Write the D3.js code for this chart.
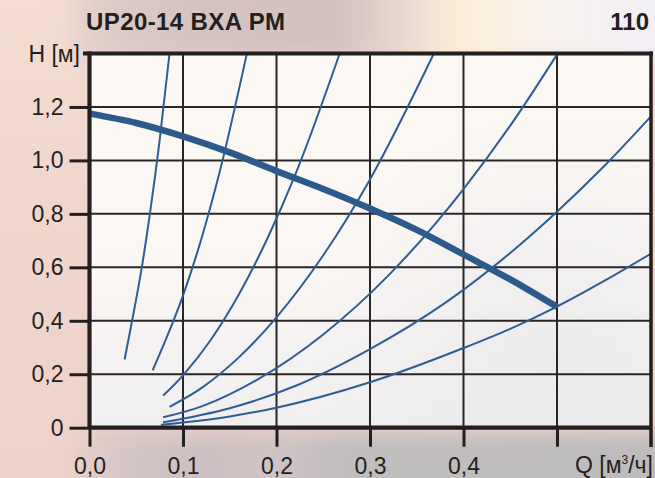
<!DOCTYPE html>
<html>
<head>
<meta charset="utf-8">
<script src="https://cdn.jsdelivr.net/npm/d3@7"></script>
<style>
  html, body { margin: 0; padding: 0; background: #efd6cc; }
  svg { display: block; }
  text { font-family: "Liberation Sans", Arial, Helvetica, sans-serif; }
</style>
</head>
<body>
<svg id="chart" width="655" height="478"></svg>
<script>
// ---- data -------------------------------------------------------------
const title = "UP20-14 BXA PM";
const sheetNo = "110";

const qTicks = [0, 0.1, 0.2, 0.3, 0.4, 0.5];
const qTickLabels = ["0,0", "0,1", "0,2", "0,3", "0,4", ""];
const hTicks = [0, 0.2, 0.4, 0.6, 0.8, 1.0, 1.2];
const hTickLabels = ["0", "0,2", "0,4", "0,6", "0,8", "1,0", "1,2"];
const qGrid = [0.1, 0.2, 0.3, 0.4, 0.5];
const hGrid = [0.2, 0.4, 0.6, 0.8, 1.0, 1.2];

// pump characteristic, Q [m3/h] -> H [m]
const pumpQ = [0, 0.05, 0.1, 0.15, 0.2, 0.25, 0.3, 0.35, 0.4, 0.45, 0.5];
const pumpH = [1.175, 1.14, 1.09, 1.03, 0.96, 0.893, 0.82, 0.74, 0.648, 0.555, 0.452];

// system resistance curves, [Q, H]
const system1 = [[0.0375, 0.255], [0.045, 0.39], [0.055, 0.58], [0.065, 0.81], [0.075, 1.075], [0.0856, 1.40]];
const system2 = [[0.0676, 0.215], [0.08, 0.316], [0.1, 0.494], [0.12, 0.711], [0.14, 0.968], [0.1683, 1.40]];
const system3 = [[0.0788, 0.12], [0.1, 0.196], [0.13, 0.33], [0.16, 0.50], [0.19, 0.706], [0.22, 0.946], [0.2676, 1.40]];
const system4 = [[0.0856, 0.078], [0.12, 0.149], [0.16, 0.264], [0.2, 0.413], [0.25, 0.645], [0.3, 0.929], [0.3683, 1.40]];
const system5 = [[0.0788, 0.039], [0.12, 0.08], [0.18, 0.181], [0.25, 0.349], [0.32, 0.571], [0.4, 0.893], [0.45, 1.13], [0.5007, 1.40]];
const system6 = [[0.0786, 0.02], [0.15, 0.073], [0.22, 0.156], [0.3, 0.294], [0.38, 0.466], [0.45, 0.654], [0.5, 0.808], [0.55, 0.977], [0.6, 1.163]];
const system7 = [[0.0765, 0.011], [0.15, 0.042], [0.2, 0.075], [0.3, 0.17], [0.4, 0.298], [0.45, 0.37], [0.5, 0.453], [0.55, 0.548], [0.6, 0.65]];
const systemCurves = [system1, system2, system3, system4, system5, system6, system7];

// ---- layout -----------------------------------------------------------
const W = 655, H = 478;
const x = d3.scaleLinear().domain([0, 0.6]).range([89.5, 650.5]);
const y = d3.scaleLinear().domain([0, 1.4]).range([427.7, 53.5]);

const ink = "#231f20";
const blue = "#2f5d92";

const svg = d3.select("#chart");
const defs = svg.append("defs");

// soft backdrop
defs.append("filter").attr("id", "soft")
  .attr("x", -0.2).attr("y", -0.5).attr("width", 1.4).attr("height", 2)
  .append("feGaussianBlur").attr("stdDeviation", 10);

function hGradient(id, stops) {
  const g = defs.append("linearGradient").attr("id", id)
    .attr("gradientUnits", "userSpaceOnUse")
    .attr("x1", 0).attr("x2", W).attr("y1", 0).attr("y2", 0);
  stops.forEach(([o, c]) => g.append("stop").attr("offset", o / W).attr("stop-color", c));
}
function vGradient(id, y1, y2, stops) {
  const g = defs.append("linearGradient").attr("id", id)
    .attr("gradientUnits", "userSpaceOnUse")
    .attr("x1", 0).attr("x2", 0).attr("y1", y1).attr("y2", y2);
  stops.forEach(([o, c]) => g.append("stop").attr("offset", o).attr("stop-color", c));
}

hGradient("topBand", [[0, "#f4ddd1"], [60, "#eed6cd"], [115, "#dccac7"], [200, "#d5c3c1"], [340, "#d3c1c0"],
  [405, "#e8d9d0"], [445, "#faebd6"], [490, "#fcefdd"], [545, "#f7f1ee"], [655, "#f2eff5"]]);
hGradient("bottomBand", [[0, "#f0d6cc"], [70, "#eccfc7"], [120, "#d6c6c6"], [200, "#cdc0c2"], [275, "#d0c3c4"],
  [340, "#c1bdbe"], [655, "#bdbbbc"]]);
vGradient("leftBand", 0, H, [[0, "#f4ddd1"], [0.5, "#f0d5cb"], [1, "#eed3ca"]]);
vGradient("plotFill", 53, 428, [[0, "#fcf9f5"], [0.55, "#faf7f4"], [1, "#f0eeef"]]);
const haze = defs.append("radialGradient").attr("id", "plotHaze")
  .attr("gradientUnits", "userSpaceOnUse").attr("cx", 560).attr("cy", 360).attr("r", 260);
haze.append("stop").attr("offset", 0).attr("stop-color", "#e9e8ea").attr("stop-opacity", 0.7);
haze.append("stop").attr("offset", 1).attr("stop-color", "#e9e8ea").attr("stop-opacity", 0);

const bg = svg.append("g").attr("filter", "url(#soft)");
bg.append("rect").attr("x", -40).attr("y", -40).attr("width", W + 80).attr("height", H + 80).attr("fill", "url(#leftBand)");
bg.append("rect").attr("x", 70).attr("y", -40).attr("width", W + 40).attr("height", 100).attr("fill", "url(#topBand)");
bg.append("rect").attr("x", 70).attr("y", 432).attr("width", W + 40).attr("height", 90).attr("fill", "url(#bottomBand)");

// plot face
svg.append("rect").attr("x", x(0)).attr("y", y(1.4)).attr("width", x(0.6) - x(0)).attr("height", y(0) - y(1.4))
  .attr("fill", "url(#plotFill)");
svg.append("rect").attr("x", x(0)).attr("y", y(1.4)).attr("width", x(0.6) - x(0)).attr("height", y(0) - y(1.4))
  .attr("fill", "url(#plotHaze)");

// grid
const grid = svg.append("g").attr("stroke", "#2a2626").attr("stroke-width", 2);
grid.selectAll("line.v").data(qGrid).join("line").attr("class", "v")
  .attr("x1", d => x(d)).attr("x2", d => x(d)).attr("y1", y(1.4)).attr("y2", y(0));
grid.selectAll("line.h").data(hGrid).join("line").attr("class", "h")
  .attr("x1", x(0)).attr("x2", x(0.6)).attr("y1", d => y(d)).attr("y2", d => y(d));

// curves
const plot = svg.append("g");
const line = d3.line().x(d => x(d[0])).y(d => y(d[1])).curve(d3.curveMonotoneX);
plot.selectAll("path.sys").data(systemCurves).join("path").attr("class", "sys")
  .attr("d", line).attr("fill", "none").attr("stroke", blue).attr("stroke-width", 2);
plot.append("path").datum(pumpQ.map((q, i) => [q, pumpH[i]]))
  .attr("d", line).attr("fill", "none").attr("stroke", "#2e5a8b").attr("stroke-width", 6.5);

// frame
svg.append("line").attr("x1", 83).attr("x2", 653).attr("y1", y(1.4)).attr("y2", y(1.4))
  .attr("stroke", ink).attr("stroke-width", 4);
svg.append("line").attr("x1", x(0.6) + 0.5).attr("x2", x(0.6) + 0.5).attr("y1", y(1.4) - 2).attr("y2", 447)
  .attr("stroke", ink).attr("stroke-width", 3.5);

// axes
const yAxis = d3.axisLeft(y).tickValues(hTicks).tickSize(20).tickPadding(6)
  .tickFormat((v, i) => hTickLabels[i]);
const gy = svg.append("g").attr("transform", `translate(${x(0)},0)`).call(yAxis);
const xAxis = d3.axisBottom(x).tickValues(qTicks).tickSize(19).tickPadding(10.5)
  .tickFormat((v, i) => qTickLabels[i]);
const gx = svg.append("g").attr("transform", `translate(0,${y(0)})`).call(xAxis);
[gx, gy].forEach(g => {
  g.select(".domain").remove();
  g.selectAll(".tick line").attr("stroke", ink).attr("stroke-width", 3);
  g.selectAll(".tick text").attr("fill", ink).style("font-size", "23px").style("font-family", "\"Liberation Sans\", Arial, sans-serif");
});
svg.append("line").attr("x1", x(0)).attr("x2", x(0)).attr("y1", y(1.4) - 2).attr("y2", y(0))
  .attr("stroke", ink).attr("stroke-width", 4.2);
svg.append("line").attr("x1", x(0)).attr("x2", x(0.6)).attr("y1", y(0)).attr("y2", y(0))
  .attr("stroke", ink).attr("stroke-width", 4.2);

// titles
svg.append("text").attr("x", 86).attr("y", 30).attr("fill", ink)
  .style("font-size", "24px").style("font-weight", "bold").style("letter-spacing", "0.4px").text(title);
svg.append("text").attr("x", 649).attr("y", 30).attr("text-anchor", "end").attr("fill", ink)
  .style("font-size", "24px").style("font-weight", "bold").text(sheetNo);

svg.append("text").attr("x", 80).attr("y", 61.5).attr("text-anchor", "end").attr("fill", ink)
  .style("font-size", "23px").text("H [м]");

const ql = svg.append("text").attr("x", 653).attr("y", 473.3).attr("text-anchor", "end").attr("fill", ink)
  .style("font-size", "23px");
ql.append("tspan").text("Q [м");
ql.append("tspan").attr("dy", -9).style("font-size", "12px").text("3");
ql.append("tspan").attr("dy", 9).text("/ч]");
</script>
</body>
</html>
